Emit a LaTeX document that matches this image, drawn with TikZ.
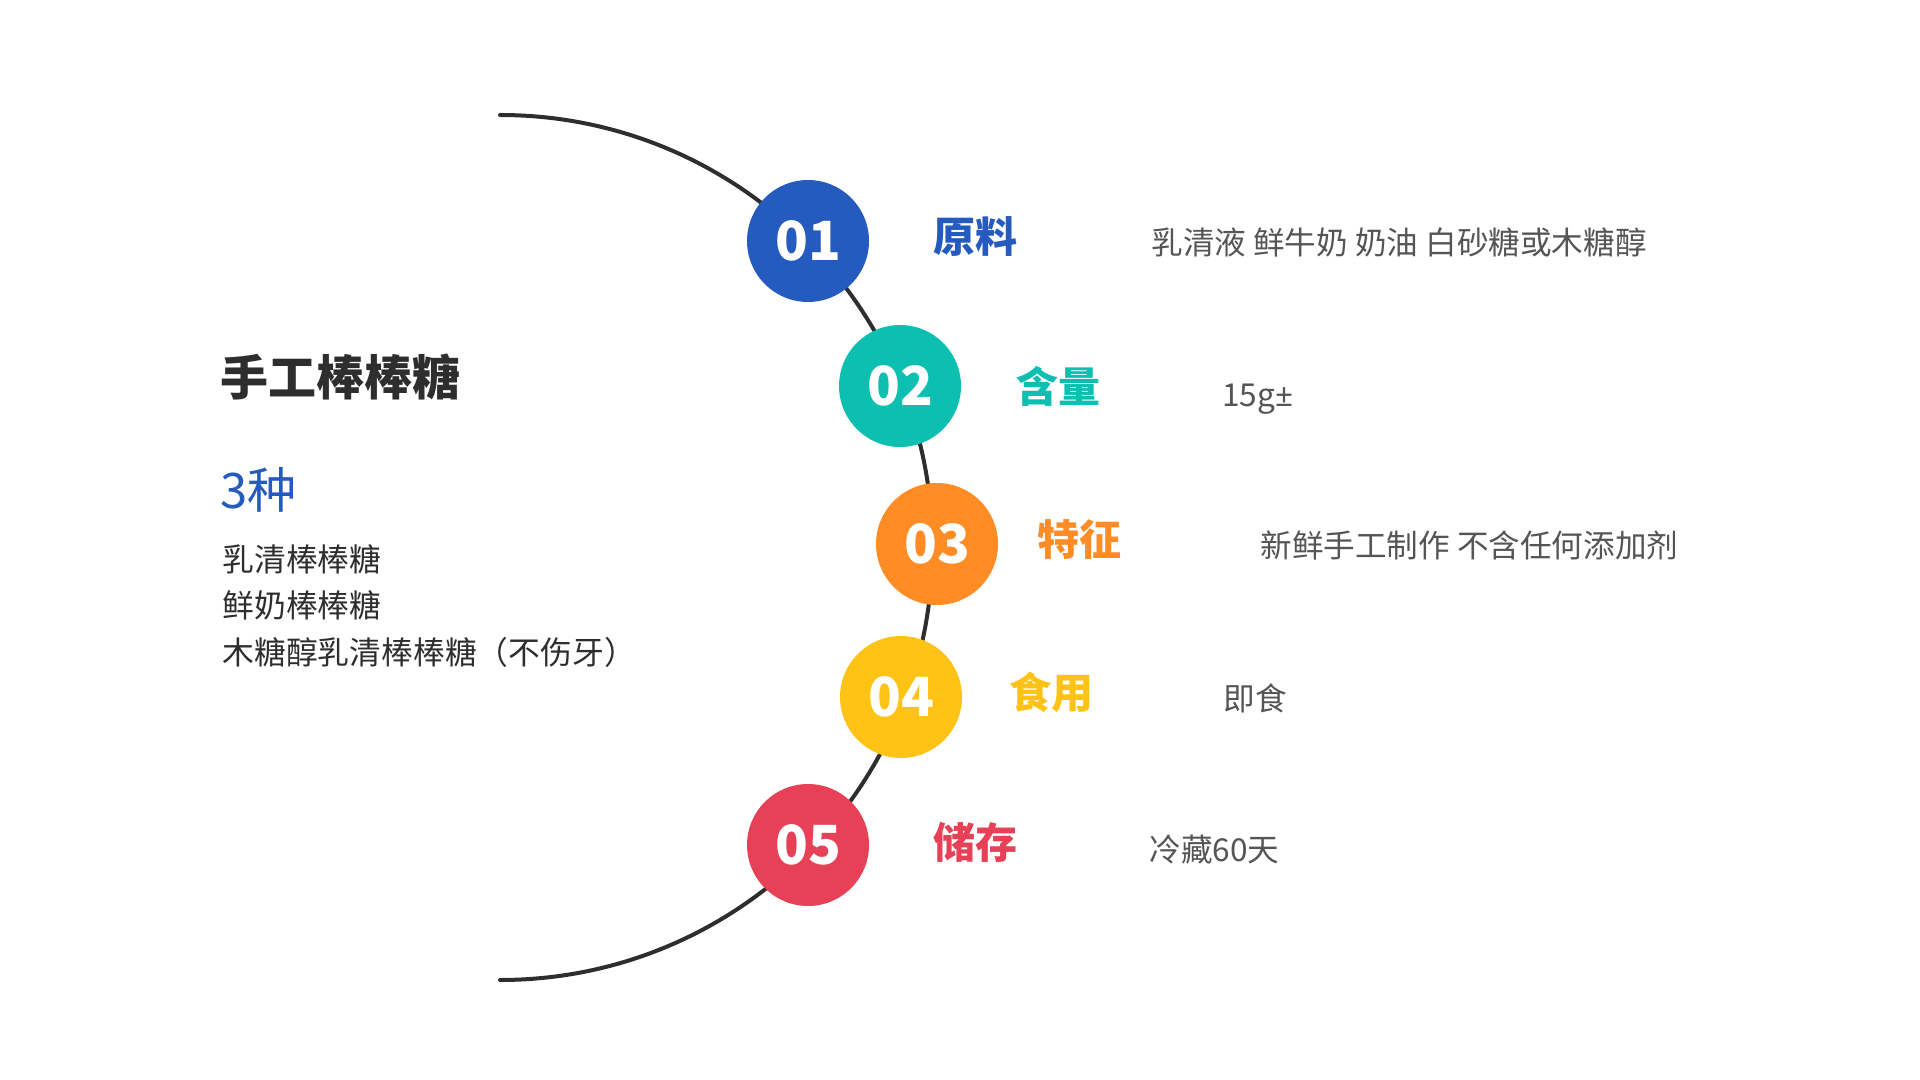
\documentclass[tikz,border=0pt]{standalone}
\usepackage{fontspec}
\setmainfont{Noto Sans CJK SC}
\newfontfamily\latinfont{Noto Sans}
\usetikzlibrary{positioning}
\usepackage{xcolor}
\definecolor{cblue}{HTML}{255BBE}
\definecolor{cteal}{HTML}{0CBFB0}
\definecolor{corange}{HTML}{FF8C25}
\definecolor{cyellow}{HTML}{FFC315}
\definecolor{cred}{HTML}{E64157}
\definecolor{dark}{HTML}{2E2E2E}
\definecolor{descgray}{HTML}{555555}
\tikzset{
  numdot/.style={circle, minimum size=61pt, inner sep=0pt, text=white, font=\fontsize{27}{27}\selectfont\bfseries},
  bluedot/.style={numdot, fill=cblue},
  tealdot/.style={numdot, fill=cteal},
  orangedot/.style={numdot, fill=corange},
  yellowdot/.style={numdot, fill=cyellow},
  reddot/.style={numdot, fill=cred},
  itemlabel/.style={anchor=west, inner sep=0pt, text height=0.88em, text depth=0.12em, font=\fontsize{21}{21}\selectfont\bfseries},
  desc/.style={anchor=west, inner sep=0pt, text height=0.88em, text depth=0.12em, text=descgray, font=\fontsize{15.8}{15.8}\selectfont},
  arcline/.style={draw=dark, line width=2pt, line cap=round}
}

\begin{document}
\begin{tikzpicture}[x=0.5pt, y=-0.5pt]
  \useasboundingbox (0,0) rectangle (1920,1080);
  % the curve behind the numbers
  \coordinate (arctop) at (500,115);
  \draw[arcline] (arctop) arc[start angle=90, end angle=-90, radius=216.25pt];
  % numbered circles
  \node[bluedot] (raw) at (808,241) {01};
  \node[tealdot] (amount) at (900,386) {02};
  \node[orangedot] (feature) at (937,544) {03};
  \node[yellowdot] (eat) at (901,697) {04};
  \node[reddot] (store) at (808,845) {05};
  % headings
  \node[itemlabel, text=cblue] (rawlab) at (933,245) {原料};
  \node[itemlabel, text=cteal] (amountlab) at (1016,395) {含量};
  \node[itemlabel, text=corange] (featurelab) at (1037,548) {特征};
  \node[itemlabel, text=cyellow] (eatlab) at (1009,701) {食用};
  \node[itemlabel, text=cred] (storelab) at (933,851) {储存};
  % details
  \node[desc] (rawtxt) at (1151,247) {乳清液 鲜牛奶 奶油 白砂糖或木糖醇};
  \node[desc] (amounttxt) at (1222,399) {15g{\latinfont ±}};
  \node[desc] (featuretxt) at (1260,550) {新鲜手工制作 不含任何添加剂};
  \node[desc] (eattxt) at (1223,703) {即食};
  \node[desc] (storetxt) at (1149,854) {冷藏60天};
  % left block
  \node[anchor=west, inner sep=0pt, text=dark, font=\fontsize{24}{24}\selectfont\bfseries] (title) at (220,377) {手工棒棒糖};
  \node[anchor=west, inner sep=0pt, text=cblue, font=\fontsize{24.5}{24.5}\selectfont] (kinds) at (220,490) {3种};
  \node[anchor=west, inner sep=0pt, align=left, text=dark, font=\fontsize{15.9}{23.25}\selectfont] (kindlist) at (222,606) {乳清棒棒糖\\鲜奶棒棒糖\\木糖醇乳清棒棒糖（不伤牙）};
\end{tikzpicture}
\end{document}
